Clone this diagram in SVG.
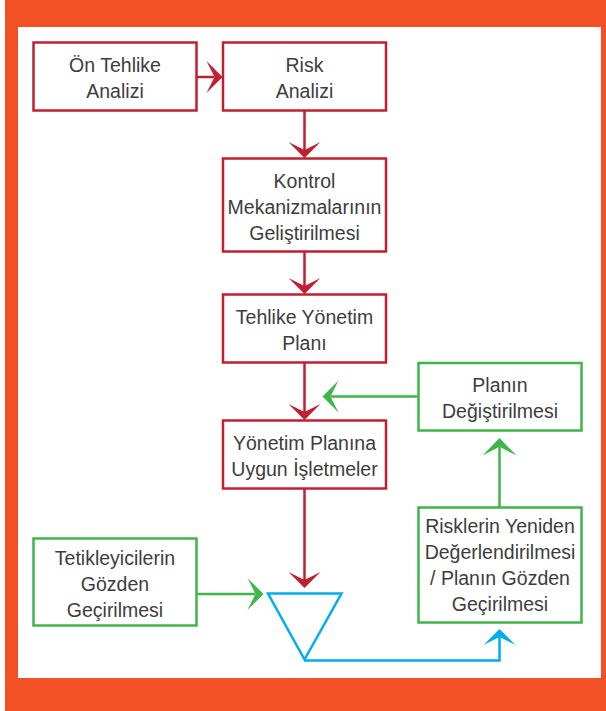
<svg xmlns="http://www.w3.org/2000/svg" width="606" height="711" viewBox="0 0 606 711">
<style>
.red{fill:#fff;stroke:#c01f2f;stroke-width:2.5}
.grn{fill:#fff;stroke:#3fb54b;stroke-width:2.5}
.lr{fill:none;stroke:#c01f2f;stroke-width:2.5}
.lg{fill:none;stroke:#3fb54b;stroke-width:2.5}
.lb{fill:none;stroke:#00aeef;stroke-width:2.5}
.ar{fill:#c01f2f}
.ag{fill:#3fb54b}
.ab{fill:#00aeef}
text{font-family:"Liberation Sans",Arial,sans-serif;font-size:19.5px;fill:#3d3d3d;text-anchor:middle}
</style>
<defs>
<path id="ah" d="M0,0 L-16,-16 L0,-8 L16,-16 Z"/>
</defs>
<rect x="5" y="0" width="601" height="711" fill="#f15124"/>
<rect x="18" y="27" width="583" height="651" fill="#fff"/>
<g id="connectors">
<line class="lr" x1="197" y1="77" x2="214" y2="77"/>
<use href="#ah" class="ar" transform="translate(222.5,77) rotate(-90)"/>
<line class="lr" x1="304.5" y1="111" x2="304.5" y2="150"/>
<use href="#ah" class="ar" transform="translate(304.5,158)"/>
<line class="lr" x1="304.5" y1="252" x2="304.5" y2="286"/>
<use href="#ah" class="ar" transform="translate(304.5,294)"/>
<line class="lr" x1="304.5" y1="362" x2="304.5" y2="412"/>
<use href="#ah" class="ar" transform="translate(304.5,420)"/>
<line class="lr" x1="304.5" y1="488" x2="304.5" y2="580"/>
<use href="#ah" class="ar" transform="translate(304.5,588)"/>
<line class="lg" x1="418" y1="396.5" x2="331" y2="396.5"/>
<use href="#ah" class="ag" transform="translate(322.5,396.5) rotate(90)"/>
<line class="lg" x1="499.5" y1="507" x2="499.5" y2="447"/>
<use href="#ah" class="ag" transform="translate(499.5,438) rotate(180) scale(1.06,1.1)"/>
<line class="lg" x1="197" y1="594" x2="255" y2="594"/>
<use href="#ah" class="ag" transform="translate(263.5,594) rotate(-90)"/>
<polyline class="lb" points="304.5,660.5 499.5,660.5 499.5,637"/>
<use href="#ah" class="ab" transform="translate(499.5,629) rotate(180)"/>
</g>
<g id="n-on-tehlike">
<rect class="red" x="33.5" y="42.5" width="163" height="68"/>
<text x="115" y="72">Ön Tehlike</text>
<text x="115" y="98">Analizi</text>
</g>
<g id="n-risk">
<rect class="red" x="223" y="42.5" width="163" height="68"/>
<text x="304.5" y="72">Risk</text>
<text x="304.5" y="98">Analizi</text>
</g>
<g id="n-kontrol">
<rect class="red" x="223" y="158.5" width="163" height="93"/>
<text x="304.5" y="188">Kontrol</text>
<text x="304.5" y="214">Mekanizmalarının</text>
<text x="304.5" y="240">Geliştirilmesi</text>
</g>
<g id="n-tehlike-plan">
<rect class="red" x="223" y="294.5" width="163" height="68"/>
<text x="304.5" y="324">Tehlike Yönetim</text>
<text x="304.5" y="350">Planı</text>
</g>
<g id="n-isletmeler">
<rect class="red" x="223" y="420.5" width="163" height="68"/>
<text x="304.5" y="450">Yönetim Planına</text>
<text x="304.5" y="476">Uygun İşletmeler</text>
</g>
<g id="n-plan-degis">
<rect class="grn" x="418.5" y="363" width="163" height="67.5"/>
<text x="500" y="392">Planın</text>
<text x="500" y="418">Değiştirilmesi</text>
</g>
<g id="n-riskler-yeniden">
<rect class="grn" x="418.5" y="507.5" width="163" height="115"/>
<text x="500" y="533">Risklerin Yeniden</text>
<text x="500" y="559">Değerlendirilmesi</text>
<text x="500" y="585">/ Planın Gözden</text>
<text x="500" y="611">Geçirilmesi</text>
</g>
<g id="n-tetikleyiciler">
<rect class="grn" x="33.5" y="538.5" width="163" height="87"/>
<text x="115" y="565">Tetikleyicilerin</text>
<text x="115" y="591">Gözden</text>
<text x="115" y="617">Geçirilmesi</text>
</g>
<g id="n-triangle">
<polygon class="lb" points="268,593.5 341.5,593.5 304.5,659.5"/>
</g>
</svg>
